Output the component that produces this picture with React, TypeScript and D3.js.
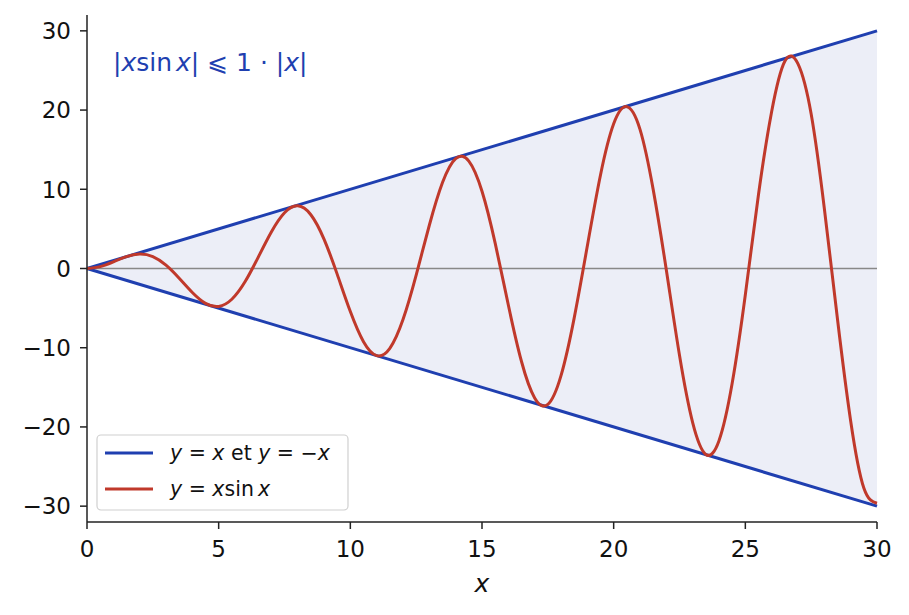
import React from "react";
import * as d3 from "d3";

// y = x sin x, every 0.5
const curveX = d3.range(0, 30.001, 0.5);
const curveY = [
  0, 0.24, 0.84, 1.5, 1.82, 1.5, 0.42, -1.23, -3.03, -4.4, -4.79, -3.88, -1.68,
  1.4, 4.6, 7.03, 7.91, 6.79, 3.71, -0.71, -5.44, -9.24, -11.0, -10.07, -6.44,
  -0.83, 5.46, 10.85, 13.87, 13.56, 9.75, 3.2, -4.61, -11.74, -16.34, -17.15,
  -13.52, -6.26, 2.85, 11.81, 18.26, 20.43, 17.57, 9.99, -0.19, -10.96, -19.46,
  -23.47, -21.73, -14.49, -3.31, 9.35, 19.83, 26.17, 25.82, 19.49, 7.58, -6.4,
  -19.24, -27.7, -29.64,
];
// envelope y = x and y = -x
const envX = [0, 30];
const envUpper = [0, 30];
const envLower = [0, -30];

const xTicks = [0, 5, 10, 15, 20, 25, 30];
const yTicks = [-30, -20, -10, 0, 10, 20, 30];

const W = 909;
const H = 615;
const m = { left: 87, right: 32, top: 15, bottom: 93 };

const BLUE = "#1f3fb0";
const RED = "#c0392b";
const FONT = "DejaVu Sans, sans-serif";

export default function App() {
  const x = d3.scaleLinear().domain([0, 30]).range([m.left, W - m.right]);
  const y = d3.scaleLinear().domain([-32, 32]).range([H - m.bottom, m.top]);

  const area = d3
    .area<number>()
    .x((d) => x(envX[d]))
    .y0((d) => y(envLower[d]))
    .y1((d) => y(envUpper[d]));
  const env = (vals: number[]) =>
    d3.line<number>().x((d) => x(envX[d])).y((d) => y(vals[d]))([0, 1]) || "";
  const curve =
    d3
      .line<number>()
      .x((d) => x(curveX[d]))
      .y((d) => y(curveY[d]))
      .curve(d3.curveNatural)(d3.range(curveY.length)) || "";

  const x0 = m.left;
  const yb = H - m.bottom;

  return (
    <svg width={W} height={H} style={{ position: "absolute", left: 0, top: 0 }} fontFamily={FONT}>
      <rect width={W} height={H} fill="#fff" />
      <path d={area([0, 1]) || ""} fill="#eceef7" />
      <line x1={x(0)} x2={x(30)} y1={y(0)} y2={y(0)} stroke="#888" strokeWidth={1.5} />
      <path d={env(envUpper)} fill="none" stroke={BLUE} strokeWidth={3} />
      <path d={env(envLower)} fill="none" stroke={BLUE} strokeWidth={3} />
      <path d={curve} fill="none" stroke={RED} strokeWidth={3} />

      {/* axes */}
      <line x1={x0} x2={x0} y1={m.top} y2={yb} stroke="#222" strokeWidth={1.5} />
      <line x1={x0} x2={W - m.right} y1={yb} y2={yb} stroke="#222" strokeWidth={1.5} />
      {yTicks.map((t) => (
        <g key={"y" + t}>
          <line x1={x0 - 7} x2={x0} y1={y(t)} y2={y(t)} stroke="#222" strokeWidth={1.5} />
          <text x={x0 - 16} y={y(t)} dy="0.36em" textAnchor="end" fontSize={23} fill="#111">
            {t < 0 ? "\u2212" + Math.abs(t) : t}
          </text>
        </g>
      ))}
      {xTicks.map((t) => (
        <g key={"x" + t}>
          <line x1={x(t)} x2={x(t)} y1={yb} y2={yb + 7} stroke="#222" strokeWidth={1.5} />
          <text x={x(t)} y={yb + 35} textAnchor="middle" fontSize={23} fill="#111">
            {t}
          </text>
        </g>
      ))}
      <text x={x(15)} y={592} textAnchor="middle" fontSize={25} fontStyle="italic" fill="#111">
        x
      </text>

      {/* annotation */}
      <text x={113} y={71} fontSize={25} fill={BLUE}>
        |<tspan fontStyle="italic">x</tspan>sin<tspan dx={4} fontStyle="italic">x</tspan>| ⩽ 1 · |
        <tspan fontStyle="italic">x</tspan>|
      </text>

      {/* legend */}
      <g>
        <rect x={97} y={435} width={251} height={75} rx={4} fill="#fff" fillOpacity={0.85} stroke="#d0d0d0" strokeWidth={1.2} />
        <line x1={105} x2={153} y1={453} y2={453} stroke={BLUE} strokeWidth={3} />
        <line x1={105} x2={153} y1={489} y2={489} stroke={RED} strokeWidth={3} />
        <text x={170} y={460} fontSize={20.5} fill="#111">
          <tspan fontStyle="italic">y</tspan> = <tspan fontStyle="italic">x</tspan> et{" "}
          <tspan fontStyle="italic">y</tspan> = −<tspan fontStyle="italic">x</tspan>
        </text>
        <text x={170} y={496} fontSize={20.5} fill="#111">
          <tspan fontStyle="italic">y</tspan> = <tspan fontStyle="italic">x</tspan>sin
          <tspan dx={4} fontStyle="italic">x</tspan>
        </text>
      </g>
    </svg>
  );
}
